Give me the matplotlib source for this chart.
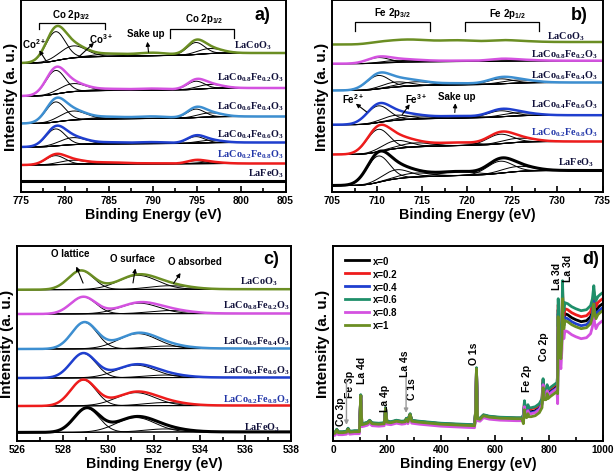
import numpy as np
import matplotlib.pyplot as plt

plt.rcParams['font.family'] = 'Liberation Sans'
plt.rcParams['font.weight'] = 'bold'
plt.rcParams['mathtext.fontset'] = 'custom'
plt.rcParams['mathtext.rm'] = 'Liberation Serif:bold'
plt.rcParams['mathtext.sf'] = 'Liberation Sans:bold'

# ---- values (y = px above the bottom axis of each panel) ----
sample_labels = ['LaCoO$_3$', 'LaCo$_{0.8}$Fe$_{0.2}$O$_3$', 'LaCo$_{0.6}$Fe$_{0.4}$O$_3$',
                 'LaCo$_{0.4}$Fe$_{0.6}$O$_3$', 'LaCo$_{0.2}$Fe$_{0.8}$O$_3$', 'LaFeO$_3$']
sample_colors = ['#6b8e23', '#d452e0', '#3d8fd1', '#1f3fcf', '#ee1c1c', 'black']
label_colors = ['#10103a', '#10103a', '#10103a', '#10103a', '#2236a8', '#10103a']

# a) Co 2p fit: Co2+, Co3+, satellites, 2p1/2 pair
co_centers = [778.9, 780.9, 785.0, 789.8, 794.8, 796.4]
co_widths = [1.1, 1.5, 1.8, 1.8, 1.0, 1.4]
co_heights = [[29, 12, 2.5, 3, 12, 5],
              [23.5, 8, 1.5, 1.5, 8, 4],
              [20, 9, 2, 2, 8.5, 4],
              [17, 7, 1.5, 1.5, 6.5, 2.5],
              [9, 4, 1.5, 0.5, 3, 1.5],
              [0, 0, 0, 0, 0, 0]]
co_base = [129, 96, 68.5, 45, 27, 11]
co_rise = [10, 8, 7, 4.5, 1.5, 0]
co_label_x = [803.4, 804.8, 804.8, 804.8, 804.8, 804.8]
co_label_y = [147, 115, 86, 58, 38, 19]

# b) Fe 2p fit: Fe2+, Fe3+, shoulder, satellite, 2p1/2 pair
fe_centers = [710.1, 712.1, 714.2, 718.8, 723.6, 725.6]
fe_widths = [1.25, 1.5, 1.8, 2.0, 1.4, 1.8]
fe_heights = [[1.5, 2.0, 3.0, 2.5, 1.5, 1.0],
              [5.5, 2, 1.5, 0.8, 1.8, 1],
              [13.4, 5, 4, 1.5, 5, 3],
              [16.7, 5, 3, 2, 6, 3],
              [22.4, 8, 4, 3, 9.5, 4],
              [26.3, 9, 4, 4, 12, 5]]
fe_base = [147.5, 128.3, 101.5, 67.3, 37.5, 6.5]
fe_rise = [2.5, 3, 8, 9.5, 13, 15]
fe_label_x = [733, 734.5, 734.5, 734.5, 734.5, 734]
fe_label_y = [156.7, 138.3, 117.3, 88.3, 60.7, 30]

# c) O 1s fit: lattice, surface, absorbed
o_centers = [[528.8, 531.3, 532.7],
             [528.9, 531.35, 532.7],
             [528.95, 531.3, 532.6],
             [528.9, 531.2, 532.5],
             [528.9, 531.2, 532.5],
             [529.05, 531.2, 532.5]]
o_widths = [0.55, 0.85, 0.9]
o_heights = [[19, 14, 3.5],
             [17, 10.5, 3],
             [26.5, 15, 2.5],
             [24.5, 12.5, 2.5],
             [26, 13, 3],
             [24, 14.5, 3]]
o_base = [151, 126.7, 91.7, 62.7, 34.7, 8.3]
o_rise = [0.5, 0.5, 0.5, 0.5, 0.5, 0.5]
o_label_x = [537.4, 537.95, 537.95, 537.95, 537.95, 537.5]
o_label_y = [160, 135.7, 100, 70.7, 42.3, 14]

# d) survey spectra
survey_names = ['x=0', 'x=0.2', 'x=0.4', 'x=0.6', 'x=0.8', 'x=1']
survey_colors = ['black', '#ee1c1c', '#1f3fcf', '#1f8f6a', '#d452e0', '#6b8e23']
survey_e_low = [0, 8, 14, 20, 35, 50, 56, 62, 80, 98, 103, 107, 115, 128, 136, 145, 170,
                190, 195, 200, 215, 235, 255, 268, 272, 278, 283, 286, 292, 320, 400, 480,
                525, 529, 532, 536, 545, 558, 580, 620, 680, 700]
survey_y_low = [7, 7.5, 10.5, 8, 8, 8.5, 11.5, 8.5, 9, 9, 45, 16, 16.5, 17.5, 19.5, 17, 16.5,
                17, 32, 18.5, 18, 19.5, 18.5, 19, 21.5, 19, 24, 26, 19.5, 18.5, 16.5, 15.5,
                15, 30, 72, 22, 21.5, 25, 23.5, 22.5, 22, 22]
survey_e_high = [706, 710, 713, 718, 723, 726, 735, 750, 765, 775, 779, 781, 785, 790, 794,
                 797, 805, 820, 830, 833, 835, 837, 840, 845, 849, 851, 853, 856, 860, 870,
                 885, 900, 920, 940, 955, 962, 967, 970, 975, 982, 990, 1000]
survey_y_high = [26, 40, 33, 32, 36, 33, 33, 34, 37, 42, 62, 50, 50, 50, 56, 51, 53, 56, 58,
                 65, 142, 118, 110, 100, 120, 160, 138, 130, 138, 137, 134, 132, 130, 131,
                 135, 142, 155, 146, 140, 144, 146, 148]
survey_shift_low = [0.5, 0.5, 0, 1, -2, 0]
survey_shift_mid = [-4, -1, -5, 0, -6, -9]
survey_shift_top = [-11, -6, -15, 0, -28, -18]

fig = plt.figure(figsize=(6.14, 4.77), dpi=100)
ax_a = fig.add_axes([0.0342, 0.5954, 0.4308, 0.4025])
ax_b = fig.add_axes([0.5407, 0.5954, 0.4406, 0.4025])
ax_c = fig.add_axes([0.0277, 0.0740, 0.4463, 0.4082])
ax_d = fig.add_axes([0.5423, 0.0740, 0.4393, 0.4082])


def fit_curves(x, base, rise, centers, heights, widths):
    comps = [h * np.exp(-0.5 * ((x - c) / w) ** 2) for c, h, w in zip(centers, heights, widths)]
    total = np.sum(comps, axis=0)
    cum = np.cumsum(total) / total.sum() if total.sum() > 0 else np.zeros_like(x)
    bg = base + rise * cum
    return bg, comps, total


def draw_panel(ax, x, bases, rises, centers, heights, widths, labels_x, labels_y, skip_comps=()):
    for i in range(6):
        cen = centers[i] if np.ndim(centers[0]) else centers
        bg, comps, total = fit_curves(x, bases[i], rises[i], cen, heights[i], widths)
        if i not in skip_comps:
            ax.plot(x, bg, color='k', lw=0.8)
            for comp in comps:
                if comp.max() > 1:
                    ax.plot(x, bg + comp, color='k', lw=0.7)
        lw = 2.2 if i == 5 else 1.8
        ax.plot(x, bg + total, color=sample_colors[i], lw=lw)
        ax.text(labels_x[i], labels_y[i], sample_labels[i], ha='right', va='center',
                fontsize=7.3, family='Liberation Serif', fontweight='bold', color=label_colors[i])


def style(ax, xlim, major, minor, ylim):
    ax.set_xlim(*xlim)
    ax.set_ylim(0, ylim)
    ax.set_xticks(np.arange(xlim[0], xlim[1] + 0.01, major))
    ax.set_xticks(np.arange(xlim[0], xlim[1] + 0.01, minor), minor=True)
    ax.set_yticks([])
    ax.tick_params(axis='x', which='both', direction='in', width=1.2, labelsize=7.3, pad=2.5)
    ax.tick_params(axis='x', which='major', length=4)
    ax.tick_params(axis='x', which='minor', length=3)
    for sp in ax.spines.values():
        sp.set_linewidth(1.4)
    ax.set_xlabel('Binding Energy (eV)', fontsize=10.3, fontweight='bold', labelpad=1)
    ax.set_ylabel('Intensity (a. u.)', fontsize=11, fontweight='bold', labelpad=2)


arrow = dict(arrowstyle='-|>', color='k', lw=0.8, mutation_scale=6)

# a) Co 2p
xa = np.linspace(775, 805, 601)
draw_panel(ax_a, xa, co_base, co_rise, co_centers, co_heights, co_widths, co_label_x, co_label_y)
style(ax_a, (775, 805), 5, 2.5, 192)
ax_a.plot([777, 777, 784.5, 784.5], [163, 169.3, 169.3, 163], color='k', lw=0.9)
ax_a.plot([791.9, 791.9, 799.2, 799.2], [154, 163.3, 163.3, 154], color='k', lw=0.9)
ax_a.text(780.7, 178, r'Co 2p$_{\mathsf{3/2}}$', ha='center', va='center', fontsize=7)
ax_a.text(795.8, 174, r'Co 2p$_{\mathsf{1/2}}$', ha='center', va='center', fontsize=7)
ax_a.text(776.5, 149, r'Co$^{\mathsf{2+}}$', ha='center', va='center', fontsize=7)
ax_a.text(784.1, 154, r'Co$^{\mathsf{3+}}$', ha='center', va='center', fontsize=7)
ax_a.text(789.2, 159, 'Sake up', ha='center', va='center', fontsize=7)
ax_a.annotate('', xy=(776.9, 144), xytext=(778.0, 129), arrowprops=arrow)
ax_a.annotate('', xy=(783.5, 151), xytext=(781.3, 133), arrowprops=arrow)
ax_a.annotate('', xy=(789.3, 153), xytext=(789.5, 137), arrowprops=arrow)
ax_a.text(803.3, 178, 'a)', ha='right', va='center', fontsize=13)

# b) Fe 2p
xb = np.linspace(705, 735, 601)
draw_panel(ax_b, xb, fe_base, fe_rise, fe_centers, fe_heights, fe_widths, fe_label_x, fe_label_y,
           skip_comps=(0,))
style(ax_b, (705, 735), 5, 2.5, 192)
ax_b.plot([707.6, 707.6, 715.9, 715.9], [160.7, 170, 170, 160.7], color='k', lw=0.9)
ax_b.plot([719.7, 719.7, 728.0, 728.0], [160.7, 170, 170, 160.7], color='k', lw=0.9)
ax_b.text(711.7, 180, r'Fe 2p$_{\mathsf{3/2}}$', ha='center', va='center', fontsize=7)
ax_b.text(724.5, 179.5, r'Fe 2p$_{\mathsf{1/2}}$', ha='center', va='center', fontsize=7)
ax_b.text(707.3, 94.3, r'Fe$^{\mathsf{2+}}$', ha='center', va='center', fontsize=7)
ax_b.text(714.3, 94.3, r'Fe$^{\mathsf{3+}}$', ha='center', va='center', fontsize=7)
ax_b.text(718.8, 96, 'Sake up', ha='center', va='center', fontsize=7)
ax_b.annotate('', xy=(707.4, 90), xytext=(709.1, 78.3), arrowprops=arrow)
ax_b.annotate('', xy=(713.8, 90), xytext=(712.6, 75), arrowprops=arrow)
ax_b.annotate('', xy=(718.7, 91.5), xytext=(718.6, 76.7), arrowprops=arrow)
ax_b.text(733.3, 178, 'b)', ha='right', va='center', fontsize=13)

# c) O 1s
xc = np.linspace(526, 538, 601)
draw_panel(ax_c, xc, o_base, o_rise, o_centers, o_heights, o_widths, o_label_x, o_label_y)
style(ax_c, (526, 538), 2, 1, 194.7)
ax_c.text(528.35, 187.3, 'O lattice', ha='center', va='center', fontsize=7)
ax_c.text(531.06, 183, 'O surface', ha='center', va='center', fontsize=7)
ax_c.text(533.77, 180, 'O absorbed', ha='center', va='center', fontsize=7)
ax_c.annotate('', xy=(528.55, 176.7), xytext=(528.94, 155), arrowprops=arrow)
ax_c.annotate('', xy=(531.2, 175), xytext=(531.06, 155), arrowprops=arrow)
ax_c.annotate('', xy=(533.23, 170), xytext=(532.79, 155), arrowprops=arrow)
ax_c.text(537.5, 181.7, 'c)', ha='right', va='center', fontsize=13)

# d) survey
e_all = np.array(survey_e_low + survey_e_high)
for i in [0, 1, 2, 3, 4, 5]:
    y_low = np.array(survey_y_low) + survey_shift_low[i]
    hi_shift = np.where(np.array(survey_e_high) < 832, survey_shift_mid[i], survey_shift_top[i])
    y_high = np.array(survey_y_high) + hi_shift
    ax_d.plot(e_all, np.concatenate([y_low, y_high]), color=survey_colors[i],
              lw=1.6 if i == 5 else 1.4, label=survey_names[i])
style(ax_d, (0, 1000), 200, 100, 194.7)
handles, labels = ax_d.get_legend_handles_labels()
for h in handles:
    h.set_linewidth(2)
ax_d.legend(handles, labels, loc='upper left', bbox_to_anchor=(0.02, 0.985), frameon=False,
            fontsize=7, handlelength=2.4, handletextpad=0.5, labelspacing=0.3, borderpad=0.2)
peak_names = ['Co 3p', 'Fe 3p', 'La 4d', 'La 4p', 'La 4s', 'C 1s', 'O 1s', 'Fe 2p', 'Co 2p',
              'La 3d', 'La 3d']
peak_x = [30, 62, 108, 192, 266, 294, 523, 721, 783, 829, 872]
peak_y = [30, 57, 71.7, 43.3, 77.7, 52.7, 88.3, 63.3, 95, 165, 173.3]
for name, px, py in zip(peak_names, peak_x, peak_y):
    ax_d.text(px, py, name, rotation=90, ha='center', va='center', fontsize=7.5)
gray_arrow = dict(arrowstyle='-|>', color='#999999', lw=1.0, mutation_scale=6)
ax_d.annotate('', xy=(50, 13), xytext=(50, 64), arrowprops=gray_arrow)
ax_d.annotate('', xy=(271, 25), xytext=(271, 66), arrowprops=gray_arrow)
ax_d.text(985, 181.7, 'd)', ha='right', va='center', fontsize=13)

fig.savefig('out.png', dpi=100)
